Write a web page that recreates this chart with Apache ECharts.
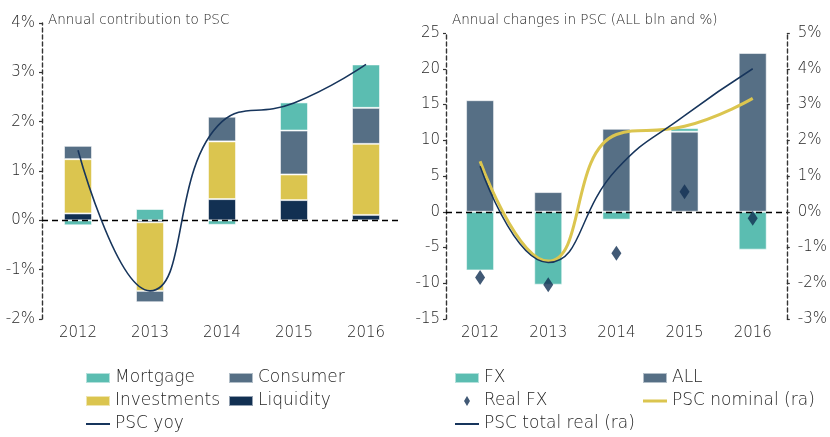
<!DOCTYPE html>
<html>
<head>
<meta charset="utf-8">
<script src="https://cdn.jsdelivr.net/npm/echarts@6/dist/echarts.min.js"></script>
<style>
  html, body { margin: 0; padding: 0; background: #fff; }
  #viz { width: 830px; height: 437px; }
</style>
</head>
<body>
<div id="viz"></div>
<script>
const years = ['2012', '2013', '2014', '2015', '2016']

// left panel: contribution to PSC growth, %
const mortgage = [-0.10, 0.23, -0.09, 0.57, 0.88]
const consumer = [0.27, -0.23, 0.50, 0.89, 0.73]
const investments = [1.10, -1.39, 1.17, 0.52, 1.44]
const liquidity = [0.14, -0.04, 0.43, 0.41, 0.11]
const pscYoy = [1.42, -1.43, 2.0, 2.38, 3.16]

// right panel: ALL bln (left axis) and % (right axis)
const fx = [-8.2, -10.2, -1.1, 0.5, -5.3]
const all = [15.6, 2.75, 11.6, 11.2, 22.2]
const realFx = [-9.2, -10.2, -5.8, 2.8, -0.9]
const pscNominal = [1.41, -1.38, 2.16, 2.39, 3.17]
const pscTotalReal = [1.27, -1.42, 1.18, 2.69, 4.0]

const TEAL = '#5BBDB1'
const SLATE = '#566F85'
const YELLOW = '#DBC54F'
const NAVY = '#123052'
const LINE_NAVY = '#17355C'
const TEXT = '#262626'
const FONT = 'DejaVu Sans'
const WEIGHT = 300
const SMOOTH = 0.5

const axisLineStyle = { color: '#333', width: 1.4, type: [4, 3] }
const zeroLine = {
  silent: true,
  symbol: ['none', 'none'],
  label: { show: false },
  lineStyle: { color: '#000', width: 1.3, type: [6, 4] },
  data: [{ yAxis: 0 }],
}

const catAxis = (gridIndex) => ({
  type: 'category',
  gridIndex,
  data: years,
  axisLine: { show: false, onZero: false },
  axisTick: { show: false },
  axisLabel: { fontSize: 15, color: TEXT, margin: 7, fontFamily: FONT, fontWeight: WEIGHT },
})

const valAxis = (gridIndex, min, max, interval, opts = {}) => ({
  type: 'value',
  gridIndex,
  min,
  max,
  interval,
  splitLine: { show: false },
  axisLine: { show: true, lineStyle: axisLineStyle },
  axisTick: { show: true, length: 3, lineStyle: { color: '#333', width: 1.2 } },
  axisLabel: {
    fontSize: 15, color: TEXT, fontFamily: FONT, fontWeight: WEIGHT, margin: 7,
    ...(opts.axisLabel || {}),
  },
  position: opts.position,
})

const barStyle = (color) => ({
  color,
  borderColor: 'rgba(255,255,255,0.55)',
  borderWidth: 1,
})

const legendBase = {
  orient: 'vertical',
  selectedMode: false,
  padding: 0,
  itemWidth: 24,
  itemHeight: 10,
  itemGap: 5,
  textStyle: { fontSize: 17, color: TEXT, fontFamily: FONT, fontWeight: WEIGHT, lineHeight: 18 },
}

// thin bars used as legend icons for the line series
const thinLine = 'path://M0,0 H24 V2 H0 Z'
const thickLine = 'path://M0,0 H24 V3 H0 Z'

const titleStyle = { fontSize: 13.5, fontWeight: WEIGHT, color: TEXT, fontFamily: FONT }

const myChart = echarts.init(document.getElementById('viz'))

myChart.setOption({
  animation: false,
  textStyle: { fontFamily: FONT },
  title: [
    { text: 'Annual contribution to PSC', left: 43, top: 8, textStyle: titleStyle },
    { text: 'Annual changes in PSC (ALL bln and %)', left: 447, top: 8, textStyle: titleStyle },
  ],
  grid: [
    { left: 42, top: 23, width: 360, height: 296 },
    { left: 446, top: 33, width: 341, height: 286 },
  ],
  xAxis: [catAxis(0), catAxis(1)],
  yAxis: [
    valAxis(0, -2, 4, 1, { axisLabel: { formatter: '{value}%' } }),
    valAxis(1, -15, 25, 5, { axisLabel: { margin: 6 } }),
    valAxis(1, -3, 5, 1, { position: 'right', axisLabel: { formatter: '{value}%', margin: 11 } }),
  ],
  legend: [
    { ...legendBase, left: 85, top: 369, data: [
      { name: 'Mortgage', icon: 'rect' },
      { name: 'Investments', icon: 'rect' },
      { name: 'PSC yoy', icon: thinLine },
    ] },
    { ...legendBase, left: 228, top: 369, data: [
      { name: 'Consumer', icon: 'rect' },
      { name: 'Liquidity', icon: 'rect' },
    ] },
    { ...legendBase, left: 454, top: 369, data: [
      { name: 'FX', icon: 'rect' },
      { name: 'Real FX', icon: 'path://M3,0 L6,5 L3,10 L0,5 Z' },
      { name: 'PSC total real (ra)', icon: thinLine },
    ] },
    { ...legendBase, left: 642, top: 369, data: [
      { name: 'ALL', icon: 'rect' },
      { name: 'PSC nominal (ra)', icon: thickLine },
    ] },
  ],
  series: [
    {
      name: 'Liquidity', type: 'bar', stack: 'contrib', barWidth: 28,
      xAxisIndex: 0, yAxisIndex: 0, data: liquidity, itemStyle: barStyle(NAVY),
      markLine: zeroLine,
    },
    {
      name: 'Investments', type: 'bar', stack: 'contrib', barWidth: 28,
      xAxisIndex: 0, yAxisIndex: 0, data: investments, itemStyle: barStyle(YELLOW),
    },
    {
      name: 'Consumer', type: 'bar', stack: 'contrib', barWidth: 28,
      xAxisIndex: 0, yAxisIndex: 0, data: consumer, itemStyle: barStyle(SLATE),
    },
    {
      name: 'Mortgage', type: 'bar', stack: 'contrib', barWidth: 28,
      xAxisIndex: 0, yAxisIndex: 0, data: mortgage, itemStyle: barStyle(TEAL),
    },
    {
      name: 'PSC yoy', type: 'line', smooth: SMOOTH, symbol: 'none',
      xAxisIndex: 0, yAxisIndex: 0, data: pscYoy, z: 5,
      itemStyle: { color: LINE_NAVY },
      lineStyle: { color: LINE_NAVY, width: 1.6 },
    },
    {
      name: 'ALL', type: 'bar', stack: 'chg', barWidth: 28,
      xAxisIndex: 1, yAxisIndex: 1, data: all, itemStyle: barStyle(SLATE),
      markLine: zeroLine,
    },
    {
      name: 'FX', type: 'bar', stack: 'chg', barWidth: 28,
      xAxisIndex: 1, yAxisIndex: 1, data: fx, itemStyle: barStyle(TEAL),
    },
    {
      name: 'PSC nominal (ra)', type: 'line', smooth: SMOOTH, symbol: 'none',
      xAxisIndex: 1, yAxisIndex: 2, data: pscNominal, z: 5,
      itemStyle: { color: YELLOW },
      lineStyle: { color: YELLOW, width: 3 },
    },
    {
      name: 'PSC total real (ra)', type: 'line', smooth: SMOOTH, symbol: 'none',
      xAxisIndex: 1, yAxisIndex: 2, data: pscTotalReal, z: 6,
      itemStyle: { color: LINE_NAVY },
      lineStyle: { color: LINE_NAVY, width: 1.5 },
    },
    {
      name: 'Real FX', type: 'scatter', symbol: 'diamond', symbolSize: [10, 15],
      xAxisIndex: 1, yAxisIndex: 1, data: realFx, z: 7,
      itemStyle: { color: NAVY },
    },
  ],
})
</script>
</body>
</html>
